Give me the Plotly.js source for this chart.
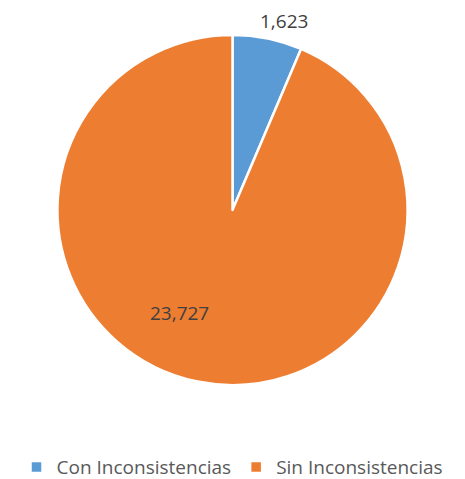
<!DOCTYPE html>
<html>
<head>
<meta charset="utf-8">
<script src="https://cdn.plot.ly/plotly-3.0.1.min.js"></script>
<style>html,body{margin:0;padding:0;background:#fff;}#chart{width:465px;height:479px;}</style>
</head>
<body>
<div id="chart"></div>
<script>
const categories = ["Con Inconsistencias", "Sin Inconsistencias"];
const values = [1623, 23727];
const colors = ["#5B9BD5", "#ED7D31"];

const FONT = "Open Sans, Liberation Sans, sans-serif";
const fmt = v => v.toLocaleString("en-US");

const trace = {
  type: "pie",
  labels: categories,
  values: values,
  sort: false,
  direction: "clockwise",
  rotation: 0,
  marker: {colors: colors, line: {color: "#ffffff", width: 2.5}},
  textinfo: "none",
  automargin: false,
  hoverinfo: "label+value",
  domain: {x: [0, 1], y: [0.196, 0.927]}
};

// data labels placed like the original (text taken from the values array)
const labelPos = [{x: 0.611, y: 0.956}, {x: 0.385, y: 0.347}];
const annotations = values.map((v, i) => ({
  text: fmt(v), x: labelPos[i].x, y: labelPos[i].y, xref: "paper", yref: "paper",
  xanchor: "center", yanchor: "middle", showarrow: false,
  font: {family: FONT, size: 19, color: "#404040"}
}));

const layout = {
  width: 465, height: 479,
  margin: {l: 0, r: 0, t: 0, b: 0, autoexpand: false},
  paper_bgcolor: "#ffffff",
  showlegend: true,
  annotations: annotations,
  legend: {
    orientation: "h", x: 0.5, xanchor: "center", y: 0.025, yanchor: "middle",
    font: {family: FONT, size: 19, color: "#595959"},
    itemwidth: 30, tracegroupgap: 0
  }
};

Plotly.newPlot("chart", [trace], layout, {displayModeBar: false, staticPlot: true});
</script>
</body>
</html>
